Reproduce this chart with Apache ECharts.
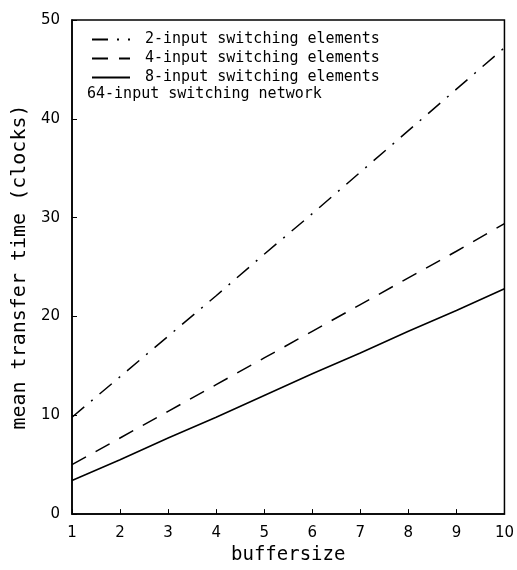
<!DOCTYPE html>
<html>
<head>
<meta charset="utf-8">
<script src="https://cdn.jsdelivr.net/npm/echarts@6/dist/echarts.min.js"></script>
<style>
  html, body { margin: 0; padding: 0; background: #fff; }
  #chart { width: 517px; height: 570px; }
</style>
</head>
<body>
<div id="chart"></div>
<script>
// buffersize on the x axis
var bufferSizes = [1, 2, 3, 4, 5, 6, 7, 8, 9, 10];
// mean transfer time (clocks)
var input2 = [9.8, 13.9, 18.0, 22.1, 26.3, 30.4, 34.6, 38.8, 43.0, 47.2];
var input4 = [5.0, 7.7, 10.4, 13.1, 15.8, 18.5, 21.2, 23.9, 26.6, 29.4];
var input8 = [3.4, 5.5, 7.7, 9.8, 12.0, 14.2, 16.3, 18.5, 20.6, 22.8];
var seriesNames = [
  "2-input switching elements",
  "4-input switching elements",
  "8-input switching elements"
];
var noteText = "64-input switching network";

function pairs(ys) {
  var out = [];
  for (var i = 0; i < ys.length; i++) {
    out.push([bufferSizes[i], ys[i]]);
  }
  return out;
}

var myChart = echarts.init(document.getElementById("chart"));
var labelFont = "DejaVu Sans";
var nameFont = "DejaVu Sans Mono";

var option = {
  animation: false,
  backgroundColor: "#fff",
  grid: {
    left: 72, right: 9, top: 20, bottom: 54,
    show: true, borderColor: "#000", borderWidth: 1.5
  },
  legend: {
    orient: "vertical",
    left: 86, top: 27,
    itemWidth: 38, itemHeight: 10, itemGap: 4,
    itemStyle: { opacity: 0 },
    textStyle: { fontFamily: nameFont, fontSize: 15, color: "#000", padding: [0, 0, 0, 10] },
    data: seriesNames
  },
  graphic: [{
    type: "text",
    left: 87, top: 87,
    style: { text: noteText, font: "15px DejaVu Sans Mono", fill: "#000" }
  }],
  xAxis: {
    type: "value",
    min: 1, max: 10, interval: 1,
    name: "buffersize",
    nameLocation: "middle",
    nameGap: 30,
    nameTextStyle: { fontFamily: nameFont, fontSize: 19, color: "#000" },
    axisLine: { lineStyle: { color: "#000", width: 1.5 } },
    axisTick: { inside: true, length: 5, lineStyle: { color: "#000" } },
    axisLabel: { fontFamily: labelFont, fontSize: 15, color: "#000", margin: 12 },
    splitLine: { show: false }
  },
  yAxis: {
    type: "value",
    min: 0, max: 50, interval: 10,
    name: "mean transfer time (clocks)",
    nameLocation: "middle",
    nameGap: 42,
    nameTextStyle: { fontFamily: nameFont, fontSize: 20, color: "#000" },
    axisLine: { show: true, lineStyle: { color: "#000", width: 1.5 } },
    axisTick: { inside: true, length: 5, lineStyle: { color: "#000" } },
    axisLabel: { fontFamily: labelFont, fontSize: 15, color: "#000", margin: 12 },
    splitLine: { show: false }
  },
  series: [
    {
      name: seriesNames[0], type: "line", data: pairs(input2),
      symbol: "none",
      lineStyle: { color: "#000", width: 1.5, type: [16, 9, 2, 9] },
      itemStyle: { color: "#000" }
    },
    {
      name: seriesNames[1], type: "line", data: pairs(input4),
      symbol: "none",
      lineStyle: { color: "#000", width: 1.5, type: [16, 11] },
      itemStyle: { color: "#000" }
    },
    {
      name: seriesNames[2], type: "line", data: pairs(input8),
      symbol: "none",
      lineStyle: { color: "#000", width: 1.5, type: "solid" },
      itemStyle: { color: "#000" }
    }
  ]
};
myChart.setOption(option);
</script>
</body>
</html>
